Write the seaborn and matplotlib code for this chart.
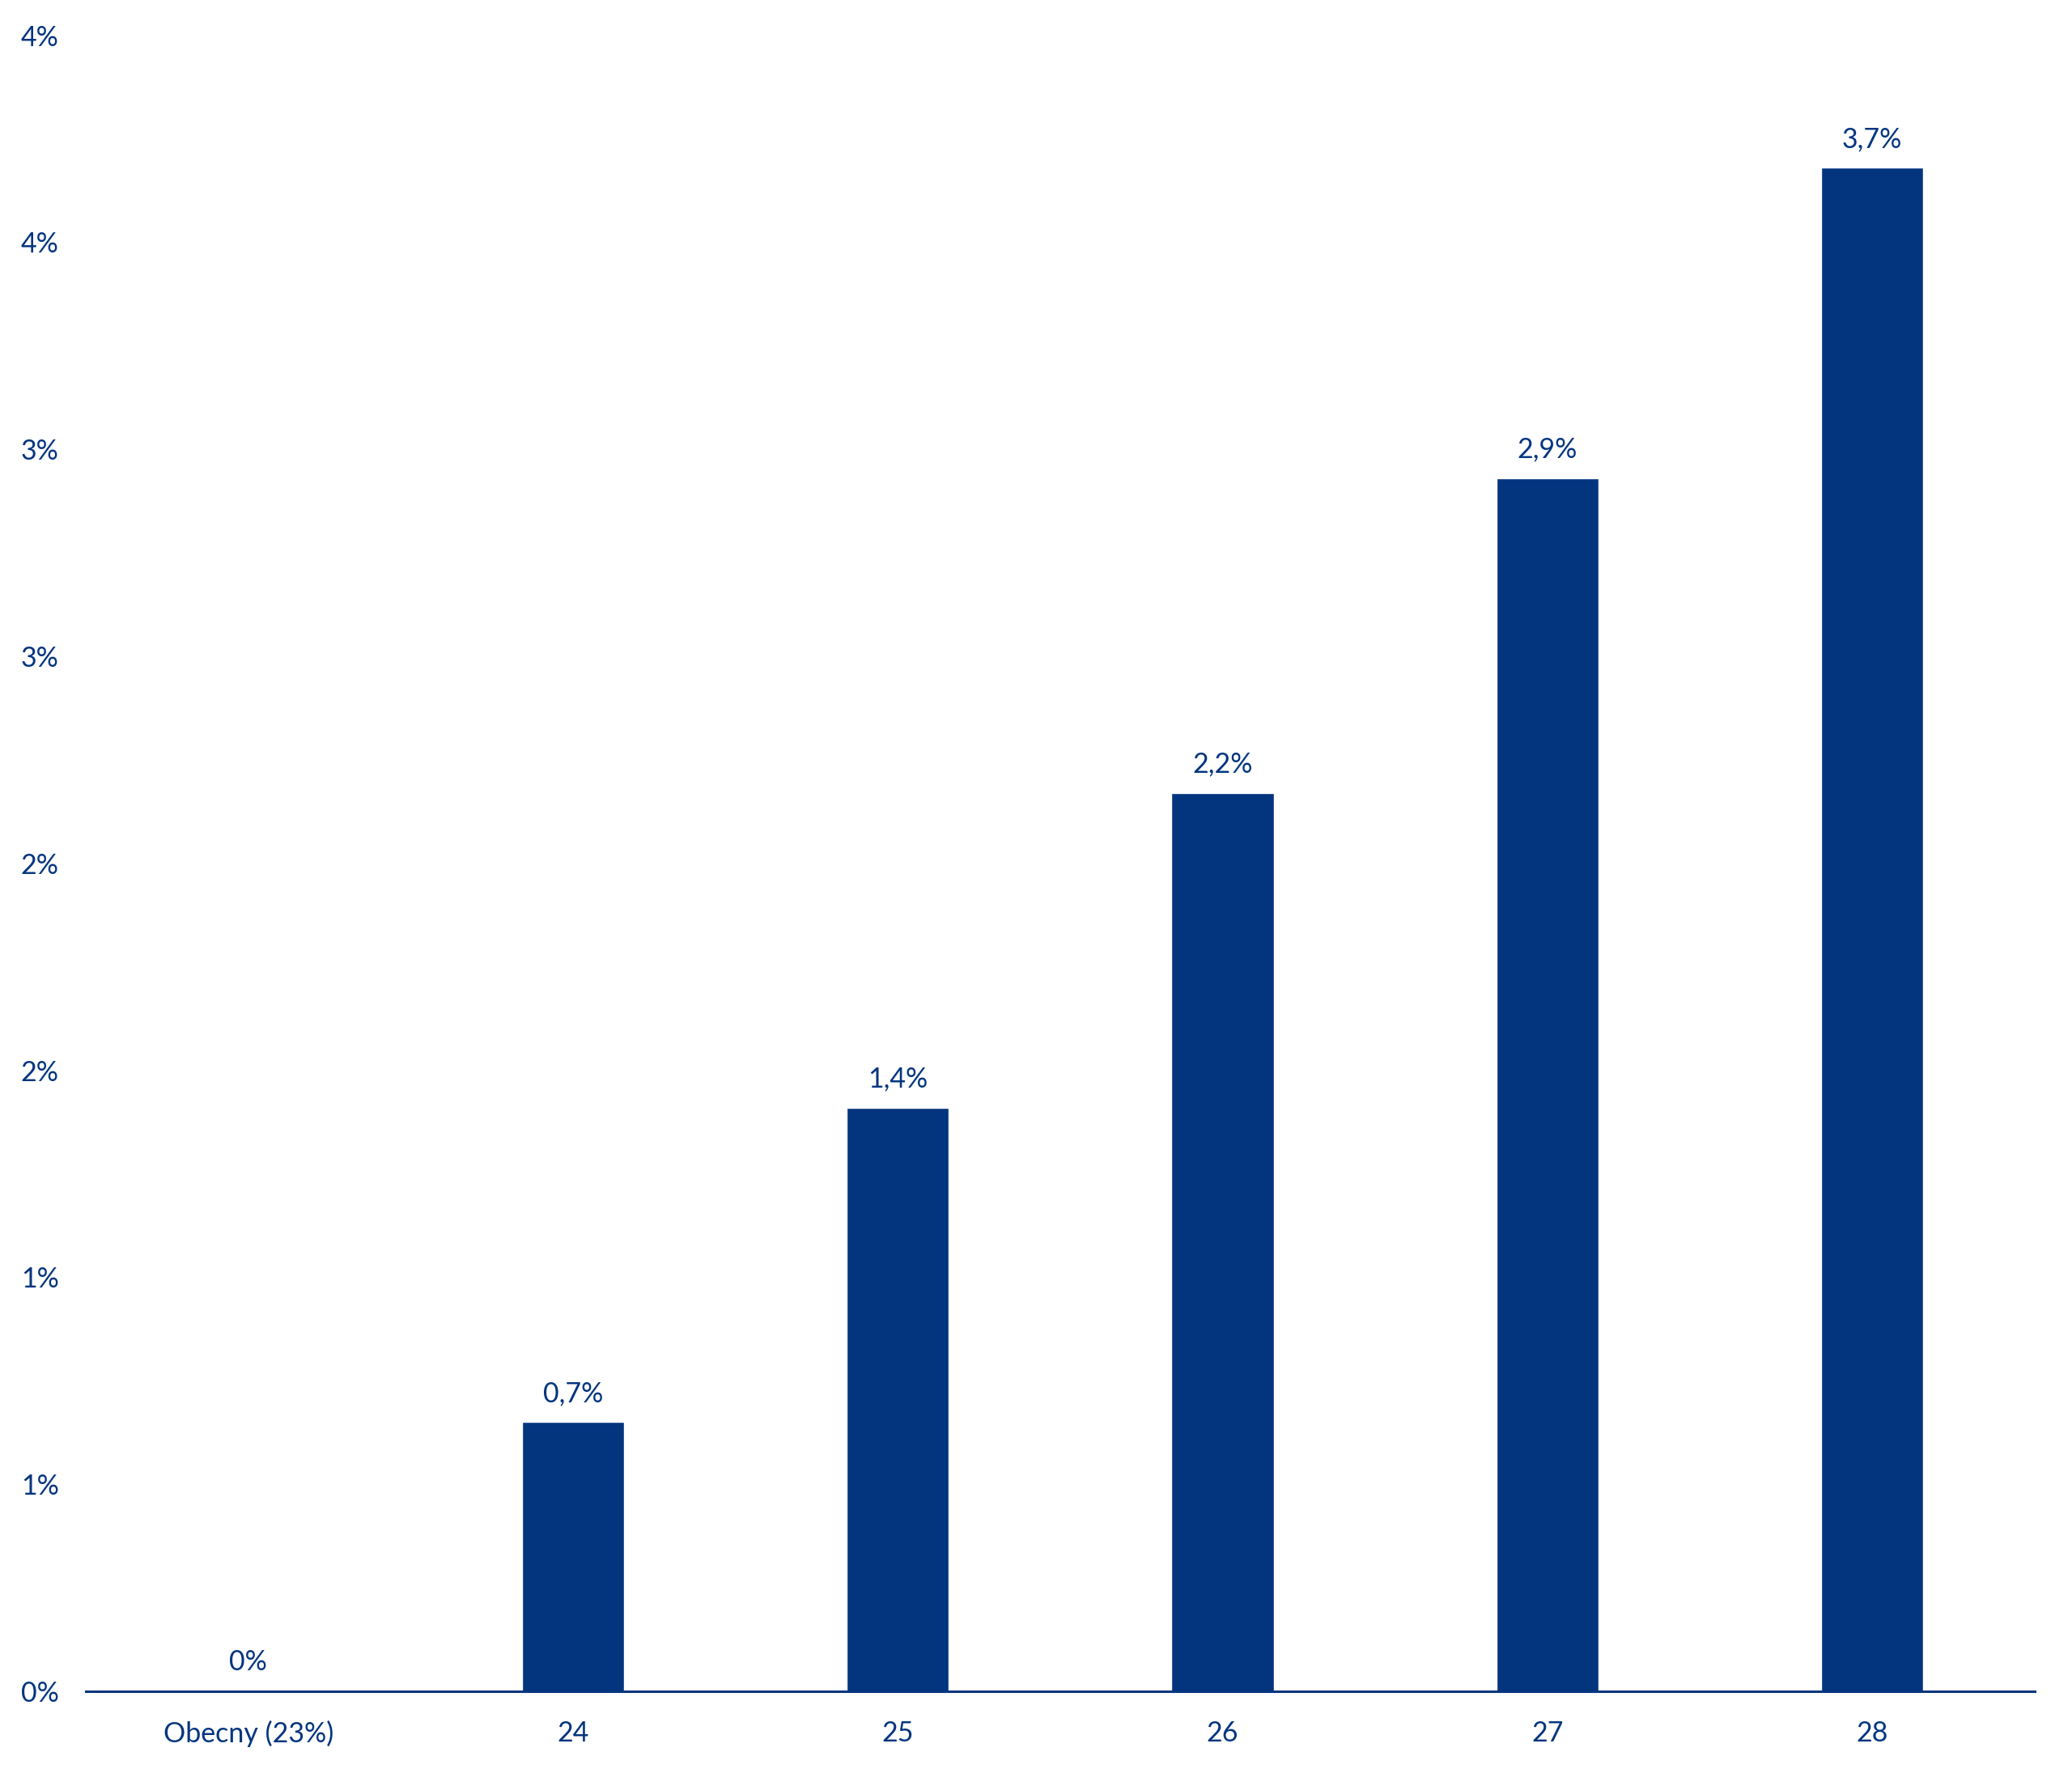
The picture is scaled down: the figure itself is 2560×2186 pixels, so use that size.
import matplotlib
matplotlib.use("Agg")
import matplotlib.pyplot as plt
import seaborn as sns
import pandas as pd
from matplotlib.ticker import FuncFormatter, MultipleLocator

categories = ["Obecny (23%)", "24", "25", "26", "27", "28"]
values = [0.0, 0.65, 1.41, 2.17, 2.93, 3.68]

blue = "#03357f"

sns.set_theme(style="white")
plt.rcParams["font.family"] = ["Lato", "DejaVu Sans"]

df = pd.DataFrame({"cat": categories, "val": values})

fig = plt.figure(figsize=(25.6, 21.86), dpi=100)
ax = fig.add_axes([0.0414, 0.044, 0.9406, 0.936])

sns.barplot(data=df, x="cat", y="val", color=blue, saturation=1,
            width=0.315, ax=ax)

ax.set_xlim(-0.5, len(categories) - 0.5)
ax.set_ylim(0, 4)
ax.yaxis.set_major_locator(MultipleLocator(0.5))


def pct_fmt(v, pos):
    # excel-style rounding to whole percent
    return f"{int(v + 0.5)}%"


ax.yaxis.set_major_formatter(FuncFormatter(pct_fmt))
ax.set_xlabel("")
ax.set_ylabel("")

for s in ["top", "right", "left"]:
    ax.spines[s].set_visible(False)
ax.spines["bottom"].set_color(blue)
ax.spines["bottom"].set_linewidth(2.2)

ax.tick_params(axis="both", length=0, labelsize=24.5, labelcolor=blue)
ax.tick_params(axis="y", pad=24)
ax.tick_params(axis="x", pad=26)

for i, v in enumerate(values):
    txt = "0%" if v == 0 else f"{v:.1f}%".replace(".", ",")
    ax.annotate(txt, (i, v), xytext=(0, 14), textcoords="offset points",
                ha="center", va="bottom", fontsize=24.5, color=blue)

fig.savefig("out.png", dpi=100, facecolor="white")
